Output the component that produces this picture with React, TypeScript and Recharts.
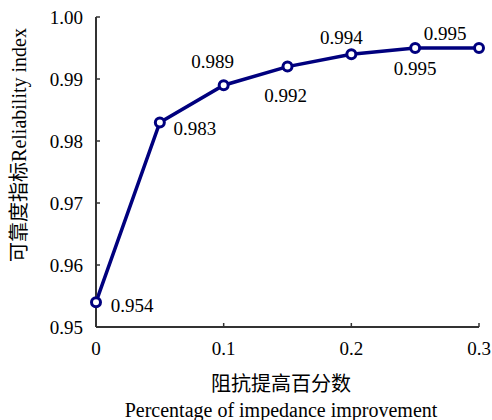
import { LineChart, Line, XAxis, YAxis, LabelList } from 'recharts';

// impedance improvement ratio vs reliability index
const IMPROVEMENT = [0, 0.05, 0.1, 0.15, 0.2, 0.25, 0.3];
const RELIABILITY = [0.954, 0.983, 0.989, 0.992, 0.994, 0.995, 0.995];
const X_TICKS = [0, 0.1, 0.2, 0.3];
const Y_TICKS = [0.95, 0.96, 0.97, 0.98, 0.99, 1.0];

const Y_TITLE = '可靠度指标Reliability index';
const X_TITLE_CN = '阻抗提高百分数';
const X_TITLE_EN = 'Percentage of impedance improvement';

// where each value label sits relative to its point (text centre)
const LABEL_OFFSETS = [
  [36, 3],
  [35, 6],
  [-11, -24],
  [-2, 29],
  [-10, -17],
  [0, 20],
  [-34, -15]
];

const FONT = '"Liberation Serif", "Times New Roman", "Noto Sans CJK SC", serif';
const NAVY = '#00007e';
const AXIS = '#333';
const Y_MARGIN = 13;
const X_MARGIN = 15;

const txt = (size: number) => ({ fontFamily: FONT, fontSize: size, fill: '#000' });

const data = IMPROVEMENT.map((x, i) => ({ x, y: RELIABILITY[i] }));

function YTick(props: any) {
  const { x, y, payload } = props;
  const ax = x + Y_MARGIN;
  return (
    <g>
      <line x1={ax} x2={ax + 4} y1={y} y2={y} stroke={AXIS} strokeWidth={1.5} />
      <text x={x} y={y} dy="0.35em" textAnchor="end" style={txt(19)}>
        {Number(payload.value).toFixed(2)}
      </text>
    </g>
  );
}

function XTick(props: any) {
  const { x, y, payload } = props;
  const ay = y - X_MARGIN;
  return (
    <g>
      <line x1={x} x2={x} y1={ay} y2={ay - 4} stroke={AXIS} strokeWidth={1.5} />
      <text x={x} y={y + 13} textAnchor="middle" style={txt(19)}>
        {payload.value}
      </text>
    </g>
  );
}

function ValueLabel(props: any) {
  const { index, value } = props;
  const px = props.x ?? props.viewBox?.x;
  const py = props.y ?? props.viewBox?.y;
  const [dx, dy] = LABEL_OFFSETS[index] || [0, -15];
  return (
    <text x={px + dx} y={py + dy} dy="0.35em" textAnchor="middle" style={txt(19)}>
      {value}
    </text>
  );
}

export default function App() {
  return (
    <div style={{ width: 492, height: 420, background: '#fff', fontFamily: FONT }}>
      <style>{'body{margin:0}'}</style>
      <LineChart
        width={492}
        height={420}
        data={data}
        margin={{ top: 17, right: 13, left: 0, bottom: 0 }}
        accessibilityLayer={false}
      >
        <XAxis
          dataKey="x"
          type="number"
          domain={[0, 0.3]}
          ticks={X_TICKS}
          height={93}
          tickSize={0}
          tickMargin={X_MARGIN}
          tick={<XTick />}
          axisLine={{ stroke: AXIS, strokeWidth: 2 }}
          tickLine={false}
          label={{
            content: (p: any) => {
              const vb = p.viewBox;
              const cx = vb.x + vb.width / 2 - 6.5;
              return (
                <g>
                  <text x={cx} y={vb.y + 64} textAnchor="middle" style={txt(20)}>{X_TITLE_CN}</text>
                  <text x={cx} y={vb.y + 90} textAnchor="middle" style={txt(20)}>{X_TITLE_EN}</text>
                </g>
              );
            }
          }}
        />
        <YAxis
          dataKey="y"
          type="number"
          domain={[0.95, 1.0]}
          ticks={Y_TICKS}
          width={96}
          tickSize={0}
          tickMargin={Y_MARGIN}
          tick={<YTick />}
          axisLine={{ stroke: AXIS, strokeWidth: 2 }}
          tickLine={false}
          label={{
            content: (p: any) => {
              const vb = p.viewBox;
              const cx = vb.x + 19;
              const cy = vb.y + vb.height / 2 - 27;
              return (
                <text
                  x={cx}
                  y={cy}
                  textAnchor="middle"
                  dominantBaseline="central"
                  transform={`rotate(-90, ${cx}, ${cy})`}
                  style={txt(20)}
                >
                  {Y_TITLE}
                </text>
              );
            }
          }}
        />
        <Line
          type="linear"
          dataKey="y"
          stroke={NAVY}
          strokeWidth={3.5}
          dot={{ r: 4.5, fill: '#fff', stroke: NAVY, strokeWidth: 3 }}
          activeDot={false}
          isAnimationActive={false}
        >
          <LabelList dataKey="y" content={<ValueLabel />} />
        </Line>
      </LineChart>
    </div>
  );
}
